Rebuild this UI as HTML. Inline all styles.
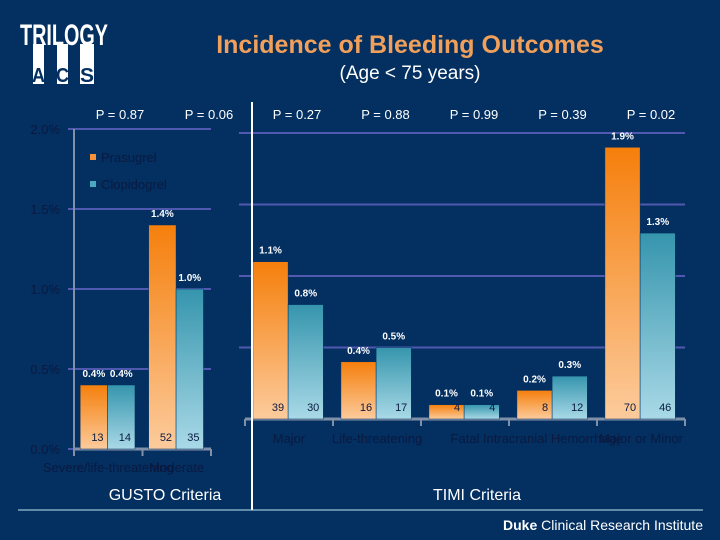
<!DOCTYPE html>
<html><head><meta charset="utf-8"><style>
body{margin:0;width:720px;height:540px;overflow:hidden;background:#032f61;font-family:"Liberation Sans",sans-serif}
svg{display:block}
</style></head><body>
<svg width="720" height="540">
<defs>
<linearGradient id="og" x1="0" y1="0" x2="0" y2="1"><stop offset="0" stop-color="#f57f0c"/><stop offset="1" stop-color="#fccb9c"/></linearGradient>
<linearGradient id="tg" x1="0" y1="0" x2="0" y2="1"><stop offset="0" stop-color="#3595ad"/><stop offset="1" stop-color="#a9d9e7"/></linearGradient>
</defs>
<g>
<text x="20" y="45" fill="#fff" font-size="30" font-weight="bold" textLength="88" lengthAdjust="spacingAndGlyphs">TRILOGY</text>
<rect x="33" y="44" width="11" height="40" fill="#fff"/><rect x="57" y="44" width="11" height="40" fill="#fff"/><rect x="80" y="44" width="14" height="40" fill="#fff"/>
<text x="32" y="82" fill="#032f61" font-size="20" font-weight="bold" textLength="13" lengthAdjust="spacingAndGlyphs">A</text>
<text x="56" y="82" fill="#032f61" font-size="20" font-weight="bold" textLength="13" lengthAdjust="spacingAndGlyphs">C</text>
<text x="80" y="82" fill="#032f61" font-size="20" font-weight="bold" textLength="14" lengthAdjust="spacingAndGlyphs">S</text>
</g>
<text x="410" y="53" text-anchor="middle" fill="#f0a05a" font-size="25" font-weight="bold">Incidence of Bleeding Outcomes</text>
<text x="410" y="79" text-anchor="middle" fill="#fff" font-size="19">(Age &lt; 75 years)</text>
<g id="left"></g>
<g id="right"></g>
<line x1="252" y1="102" x2="252" y2="510" stroke="#fff" stroke-width="2"/>
<line x1="18" y1="510" x2="703" y2="510" stroke="#bfe6f0" stroke-width="1"/>
<text x="165" y="500" text-anchor="middle" fill="#fff" font-size="16">GUSTO Criteria</text>
<text x="477" y="500" text-anchor="middle" fill="#fff" font-size="16">TIMI Criteria</text>
<text x="703" y="530" text-anchor="end" fill="#fff" font-size="14"><tspan font-weight="bold">Duke</tspan> Clinical Research Institute</text>
<g>
<rect x="90" y="154" width="6" height="6" fill="#f5913a"/><text x="101" y="162" fill="#0a1a40" font-size="13">Prasugrel</text>
<rect x="90" y="181" width="6" height="6" fill="#4aa8c0"/><text x="101" y="189" fill="#0a1a40" font-size="13">Clopidogrel</text>
</g>
</svg>
<script>
const leftCats=["Severe/life-threatening","Moderate"];
const leftPras=[0.4,1.4];
const leftClop=[0.4,1.0];
const leftPrasN=[13,52];
const leftClopN=[14,35];
const leftP=["P = 0.87","P = 0.06"];
const rightCats=["Major","Life-threatening","Fatal","Intracranial Hemorrhage","Major or Minor"];
const rightPras=[1.1,0.4,0.1,0.2,1.9];
const rightClop=[0.8,0.5,0.1,0.3,1.3];
const rightPrasN=[39,16,4,8,70];
const rightClopN=[30,17,4,12,46];
const rightP=["P = 0.27","P = 0.88","P = 0.99","P = 0.39","P = 0.02"];
const leftTicks=[0,0.5,1.0,1.5,2.0];
const NS="http://www.w3.org/2000/svg";
function mk(p,t,a){const e=document.createElementNS(NS,t);for(const k in a)e.setAttribute(k,a[k]);p.appendChild(e);return e;}
function draw(g,cfg){
 const y=v=>cfg.base-v*cfg.scale;
 const gw=(cfg.x1-cfg.x0)/cfg.cats.length;
 cfg.grid.forEach(v=>{const l=mk(g,"line",{x1:cfg.x0-6,x2:cfg.x1,y1:y(v),y2:y(v),stroke:"#5058b0","stroke-width":2});
 
 });
 if(cfg.ylab){cfg.grid.forEach(v=>{const t=mk(g,"text",{x:cfg.x0-14,y:y(v)+5,"text-anchor":"end",fill:"#0a1a40","font-size":13});t.textContent=v.toFixed(1)+"%";
 
 });
 const ax=mk(g,"line",{x1:cfg.x0,x2:cfg.x0,y1:y(2),y2:cfg.base,stroke:"#8090a8","stroke-width":2});
 
 }
 const xa=mk(g,"line",{x1:cfg.x0,x2:cfg.x1,y1:cfg.base,y2:cfg.base,stroke:"#8090a8","stroke-width":3});
 
 
 for(let i=0;i<=cfg.cats.length;i++){const tk=mk(g,"line",{x1:cfg.x0+i*gw,x2:cfg.x0+i*gw,y1:cfg.base,y2:cfg.base+7,stroke:"#8090a8","stroke-width":2});
 
 }
 cfg.cats.forEach((c,i)=>{
  const gx=cfg.x0+i*gw, bw=gw*0.4, bx=gx+gw*0.09;
  [[cfg.pras[i],cfg.pn[i],"url(#og)",bx,"prasugrel"],[cfg.clop[i],cfg.cn[i],"url(#tg)",bx+bw,"clopidogrel"]].forEach(([v,n,f,x,s])=>{
   const r=mk(g,"rect",{x:x,y:y(v),width:bw,height:v*cfg.scale,fill:f,stroke:"#032f61","stroke-width":0.5});
   
   
   const vl=mk(g,"text",{x:x+bw/2,y:y(v)-8,"text-anchor":"middle",fill:"#fff","font-size":10,"font-weight":"bold"});vl.textContent=v.toFixed(1)+"%";
   
   
   const nl=mk(g,"text",{x:x+bw-4,y:cfg.base-8,"text-anchor":"end",fill:"#0a1a40","font-size":11});nl.textContent=n;
   
   
  });
  const cl=mk(g,"text",{x:gx+gw/2,y:cfg.base+cfg.catdy,"text-anchor":"middle",fill:"#0a1a40","font-size":13});cl.textContent=c;
  
  
  const pl=mk(g,"text",{x:cfg.px0+i*cfg.pstep,y:119,"text-anchor":"middle",fill:"#fff","font-size":13});pl.textContent=cfg.p[i];
  
  
 });
}
draw(document.getElementById("left"),{x0:74,x1:211,base:449,scale:160,cats:leftCats,pras:leftPras,clop:leftClop,pn:leftPrasN,cn:leftClopN,p:leftP,grid:leftTicks,ylab:true,catdy:23,px0:120,pstep:89});
draw(document.getElementById("right"),{x0:245,x1:685,base:419,scale:143,cats:rightCats,pras:rightPras,clop:rightClop,pn:rightPrasN,cn:rightClopN,p:rightP,grid:[0.5,1.0,1.5,2.0],ylab:false,catdy:24,px0:297,pstep:88.5});
</script>
</body></html>
